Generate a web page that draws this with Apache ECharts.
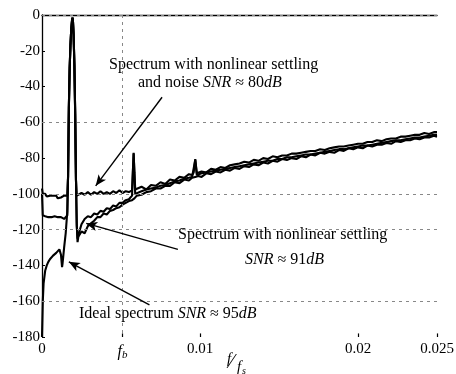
<!DOCTYPE html>
<html>
<head>
<meta charset="utf-8">
<script src="https://cdn.jsdelivr.net/npm/echarts@6/dist/echarts.min.js"></script>
<style>
  html, body { margin: 0; padding: 0; background: #fff; }
  #chart { width: 456px; height: 374px; }
</style>
</head>
<body>
<div id="chart"></div>
<script>
// normalised frequency f/fs
const freq = [
  0, 0.00005, 0.0001, 0.0002, 0.0003, 0.0004, 0.0005, 0.0006, 0.0007, 0.0008, 0.0009, 0.001, 0.0011, 0.0012, 0.00127, 0.0013, 0.0014, 0.0015, 0.0016,
  0.00165, 0.0017, 0.00175, 0.0018, 0.00185, 0.0019, 0.00193, 0.00196, 0.002, 0.00205, 0.0021, 0.00215, 0.0022, 0.00225,
  0.0023, 0.0025, 0.0027, 0.0029, 0.0031, 0.0033, 0.0035, 0.0037, 0.0039, 0.0041, 0.0043, 0.0045, 0.0047, 0.0049, 0.0051, 0.0053, 0.0055,
  0.0056, 0.0057, 0.00575, 0.0058, 0.00585, 0.0059,
  0.006, 0.0063, 0.0066, 0.0069, 0.0072, 0.0075, 0.0078, 0.0081, 0.0084, 0.0087, 0.009, 0.0093, 0.0095, 0.0096, 0.0097, 0.0098, 0.0099,
  0.0101, 0.0104, 0.0107, 0.011, 0.0113, 0.0116, 0.0119, 0.0122, 0.0125, 0.0128,
  0.0131, 0.0134, 0.0137, 0.014, 0.0143, 0.0146, 0.0149, 0.0152, 0.0155, 0.0158,
  0.0161, 0.0164, 0.0167, 0.017, 0.0173, 0.0176, 0.0179, 0.0182, 0.0185, 0.0188,
  0.0191, 0.0194, 0.0197, 0.02, 0.0203, 0.0206, 0.0209, 0.0212, 0.0215, 0.0218,
  0.0221, 0.0224, 0.0227, 0.023, 0.0233, 0.0236, 0.0239, 0.0242, 0.0245, 0.0248, 0.025
]

// spectrum with nonlinear settling and noise (SNR ~ 80dB)
const noiseDb = [
  -97, -100, -101, -100, -101.5, -100.5, -101, -102, -101, -102, -101, -102.5, -101.5, -102, -101, -102, -101, -102, -101,
  -90, -52, -30, -17, -8, -3, -1.5, -3.5, -11, -28, -55, -92, -101, -100,
  -101, -99.5, -100.5, -99, -100.5, -99, -100, -98.5, -100, -99, -100, -98.5, -99.5, -98, -99.5, -98.5, -99,
  -98.5, -98, -88, -77, -88, -97.5,
  -97.5, -96, -97.5, -95, -95.5, -93.5, -94.5, -92, -92.5, -90.5, -91, -89, -89.5, -88, -80.5, -88.5, -88,
  -87.5, -88, -86, -86.5, -85, -85.5, -84, -83.5, -83, -82,
  -82.5, -81, -81.5, -80, -80.5, -79, -79.5, -78.5, -78.5, -77.5,
  -77.5, -77, -76.5, -76, -76, -75, -75.5, -74.5, -74, -73.5,
  -73.5, -73, -72.5, -72, -72, -71, -71, -70, -70.5, -69.5,
  -69, -69, -68, -68, -67.5, -67, -67, -66, -66.5, -65.5, -65.5
]

// spectrum with nonlinear settling (SNR ~ 91dB)
const settlingDb = [
  -100, -112, -113, -112.5, -113.5, -113, -114, -113, -113.5, -112.5, -113.5, -113, -114, -113, -113.5, -113, -114, -113, -112,
  -90, -52, -30, -17, -8, -3, -1.5, -3.5, -11, -28, -55, -92, -118, -125,
  -123, -117, -114, -112.5, -113, -111, -111.5, -109.5, -110, -108, -108.5, -106.5, -107, -105, -105, -103.5, -103,
  -102.5, -101, -88, -77.5, -89, -100,
  -100, -98.5, -97.5, -97, -96.5, -95.5, -95, -94, -93, -92.5, -91.5, -91, -90.5, -90, -81, -89.5, -89.5,
  -88.5, -88, -87.5, -87, -86.5, -86, -85.5, -85, -84.5, -84,
  -83.5, -83, -82.5, -82, -81.5, -81.5, -80.5, -80.5, -79.5, -79.5,
  -79, -78.5, -78, -78, -77.5, -77, -76.5, -76, -75.5, -75,
  -75, -74.5, -74, -73.5, -73, -73, -72.5, -72, -71.5, -71,
  -70.5, -70, -70, -69.5, -69, -68.5, -68.5, -68, -67.5, -67, -67
]

// ideal spectrum (SNR ~ 95dB)
const idealDb = [
  -180, -160, -150, -143, -140, -138, -136.5, -135.5, -134.5, -133.5, -133, -132, -131, -134, -141, -139, -130, -122, -110,
  -90, -52, -30, -17, -8, -3, -1.5, -3.5, -11, -28, -55, -92, -117, -127,
  -124, -121, -122, -118, -116.5, -115, -113, -113, -111, -111.5, -109.5, -109, -108, -107.5, -106, -105, -104,
  -104, -103.5, -103, -103, -102.5, -102,
  -101, -100.5, -99, -98.5, -97, -97, -95.5, -95.5, -93.5, -94, -92, -92.5, -91, -91.5, -90.5, -91, -90,
  -90.5, -88.5, -89, -87.5, -88, -86.5, -87, -85.5, -86, -84.5,
  -85, -83.5, -84, -82.5, -83, -81.5, -82, -80.5, -81, -80,
  -80.5, -79, -79.5, -78, -78.5, -77, -77.5, -76.5, -77, -75.5,
  -76, -74.5, -75, -74, -74.5, -73, -73.5, -72.5, -72.5, -71.5,
  -72, -70.5, -71, -70, -70, -69, -69.5, -68.5, -68.5, -67.5, -68
]

const fb = 0.0051
const xTicks = [0, fb, 0.01, 0.02, 0.025]
const yGridDb = [0, -60, -100, -120, -160]

const serif = "'Liberation Serif', 'Times New Roman', serif"

const chart = echarts.init(document.getElementById('chart'))

const lineSeries = (name, values) => ({
  name: name,
  type: 'line',
  showSymbol: false,
  silent: true,
  animation: false,
  lineStyle: { color: '#000', width: 2.1 },
  data: freq.map((f, i) => [f, values[i]]),
})

// dotted grid lines that survive in the scan
const gridLines = {
  silent: true,
  symbol: 'none',
  label: { show: false },
  lineStyle: { color: '#888', width: 1, type: [3, 4] },
  data: yGridDb
    .map(v => [{ coord: [0, v] }, { coord: [0.025, v] }])
    .concat([[{ coord: [fb, 0] }, { coord: [fb, -180] }]]),
}

// short upward ticks on the frequency axis
const xTickMarks = {
  silent: true,
  symbol: 'none',
  label: { show: false },
  lineStyle: { color: '#000', width: 1.2, type: 'solid' },
  data: xTicks.slice(1).map(f => [{ coord: [f, -180] }, { coord: [f, -178] }]),
}

// arrows pointing from the notes to the curves
const arrow = (from, to) => [
  { coord: from, symbol: 'none' },
  { coord: to, symbol: 'arrow', symbolSize: [7, 11] },
]
const arrows = {
  silent: true,
  label: { show: false },
  lineStyle: { color: '#000', width: 1.4, type: 'solid' },
  data: [
    arrow([0.0076, -46], [0.0034, -95.5]),
    arrow([0.0086, -131], [0.0028, -116.5]),
    arrow([0.0068, -162], [0.0017, -138]),
  ],
}

const txt = (x, y, text) => ({
  type: 'text',
  x: x,
  y: y,
  silent: true,
  style: {
    text: text,
    verticalAlign: 'middle',
    fill: '#000',
    rich: {
      n: { fontFamily: serif, fontSize: 16, color: '#000' },
      i: { fontFamily: serif, fontSize: 16, fontStyle: 'italic', color: '#000' },
    },
  },
})

const option = {
  backgroundColor: '#fff',
  animation: false,
  grid: { left: 42, right: 19, top: 15, bottom: 37, outerBoundsMode: 'none' },
  xAxis: {
    type: 'value',
    min: 0,
    max: 0.025,
    axisLine: { show: true, lineStyle: { color: '#000', width: 1.3 } },
    axisTick: { show: false },
    splitLine: { show: false },
    axisLabel: {
      customValues: xTicks,
      margin: 5,
      fontFamily: serif,
      fontSize: 15,
      color: '#000',
      formatter: v => (Math.abs(v - fb) < 1e-7 ? '{i|f}{s|b}' : String(v)),
      rich: {
        i: { fontFamily: serif, fontSize: 16, fontStyle: 'italic', color: '#000' },
        s: { fontFamily: serif, fontSize: 11, fontStyle: 'italic', color: '#000', padding: [8, 0, 0, 0] },
      },
    },
  },
  yAxis: {
    type: 'value',
    min: -180,
    max: 0,
    interval: 20,
    axisLine: { show: true, lineStyle: { color: '#000', width: 1.3 } },
    axisTick: { show: true, inside: true, length: 3, lineStyle: { color: '#000' } },
    splitLine: { show: false },
    axisLabel: { margin: 2, fontFamily: serif, fontSize: 15, color: '#000' },
  },
  series: [
    Object.assign(lineSeries('Ideal spectrum', idealDb), { markLine: gridLines }),
    Object.assign(lineSeries('Spectrum with nonlinear settling', settlingDb), { markLine: xTickMarks }),
    Object.assign(lineSeries('Spectrum with nonlinear settling and noise', noiseDb), { markLine: arrows }),
  ],
  graphic: [
    txt(109, 65, '{n|Spectrum with nonlinear settling}'),
    txt(138, 83, '{n|and noise }{i|SNR}{n| ≈ 80}{i|dB}'),
    txt(178, 235, '{n|Spectrum with nonlinear settling}'),
    txt(245, 260, '{i|SNR}{n| ≈ 91}{i|dB}'),
    txt(79, 314, '{n|Ideal spectrum }{i|SNR}{n| ≈ 95}{i|dB}'),
    // axis name f/fs
    { type: 'text', x: 227, y: 352, silent: true, style: { text: 'f', font: 'italic 15px ' + serif, fill: '#000' } },
    { type: 'text', x: 230, y: 353, silent: true, style: { text: '⁄', font: '20px ' + serif, fill: '#000' } },
    { type: 'text', x: 237, y: 360, silent: true, style: { text: 'f', font: 'italic 15px ' + serif, fill: '#000' } },
    { type: 'text', x: 242, y: 366, silent: true, style: { text: 's', font: 'italic 10px ' + serif, fill: '#000' } },
  ],
}

chart.setOption(option)
</script>
</body>
</html>
